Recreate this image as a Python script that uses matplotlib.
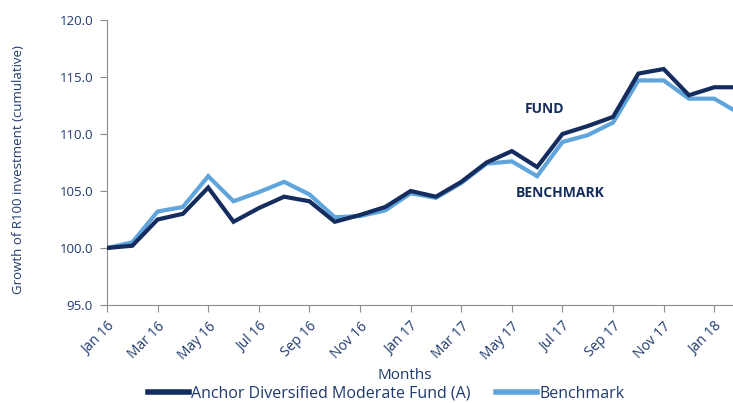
import numpy as np
import matplotlib
matplotlib.use("Agg")
import matplotlib.pyplot as plt

# monthly growth of R100, Jan 16 .. Feb 18
months = ["Jan 16", "Feb 16", "Mar 16", "Apr 16", "May 16", "Jun 16", "Jul 16",
          "Aug 16", "Sep 16", "Oct 16", "Nov 16", "Dec 16", "Jan 17", "Feb 17",
          "Mar 17", "Apr 17", "May 17", "Jun 17", "Jul 17", "Aug 17", "Sep 17",
          "Oct 17", "Nov 17", "Dec 17", "Jan 18", "Feb 18"]
fund = [100.0, 100.2, 102.5, 103.0, 105.3, 102.3, 103.5, 104.5, 104.1, 102.3,
        102.9, 103.6, 105.0, 104.5, 105.8, 107.5, 108.5, 107.1, 110.0, 110.7,
        111.5, 115.3, 115.7, 113.4, 114.1, 114.1]
benchmark = [100.0, 100.5, 103.2, 103.6, 106.3, 104.1, 104.9, 105.8, 104.7, 102.7,
             102.8, 103.3, 104.8, 104.4, 105.7, 107.4, 107.6, 106.3, 109.3, 109.9,
             111.0, 114.7, 114.7, 113.1, 113.1, 111.8]

navy = "#142d5e"
light = "#5fa5dc"
text_col = "#1f3a6e"

plt.rcParams["font.family"] = ["Open Sans", "DejaVu Sans"]

fig = plt.figure(figsize=(7.33, 4.03), dpi=100)
ax = fig.add_axes([107 / 733, 1 - 305 / 403, 1 - 107 / 733, (305 - 20) / 403])

x = np.arange(len(months))
ax.plot(x, fund, color=navy, lw=3, label="Anchor Diversified Moderate Fund (A)",
        solid_joinstyle="miter", zorder=3)
ax.plot(x, benchmark, color=light, lw=3, label="Benchmark",
        solid_joinstyle="miter", zorder=2)

ax.set_xlim(0, 24.74)
ax.set_ylim(95, 120)
ax.set_yticks(np.arange(95, 121, 5))
ax.set_yticklabels([f"{v:.1f}" for v in np.arange(95, 121, 5)])
ax.set_xticks(x[::2])
ax.set_xticklabels(months[::2], rotation=45, ha="right", rotation_mode="anchor")

for s in ["top", "right"]:
    ax.spines[s].set_visible(False)
for s in ["left", "bottom"]:
    ax.spines[s].set_color("#8c8c8c")
ax.tick_params(colors="#8c8c8c", labelcolor=text_col, length=5)
ax.tick_params(axis="y", labelsize=9.5, pad=5)
ax.tick_params(axis="x", labelsize=10, pad=5)

ax.set_ylabel("Growth of R100 investment (cumulative)", color=text_col, fontsize=9.5)
ax.yaxis.set_label_coords(-82 / 626, 0.475)
ax.set_xlabel("Months", color=text_col, fontsize=11)
ax.xaxis.set_label_coords((405 - 107) / 626, -63 / 285)

ax.text(17.3, 112.2, "FUND", color=navy, fontsize=10, fontweight="bold",
        ha="center", va="center")
ax.text(17.9, 104.8, "BENCHMARK", color=navy, fontsize=10, fontweight="bold",
        ha="center", va="center")

leg = fig.legend(loc="center", bbox_to_anchor=(386 / 733, 1 - 394 / 403), ncol=2,
                 frameon=False, fontsize=11.5, handlelength=2.6, handletextpad=0.1,
                 columnspacing=1.6, borderaxespad=0)
for t in leg.get_texts():
    t.set_color(text_col)
for h in leg.legend_handles:
    h.set_linewidth(4)

fig.savefig("out.png", dpi=100)
